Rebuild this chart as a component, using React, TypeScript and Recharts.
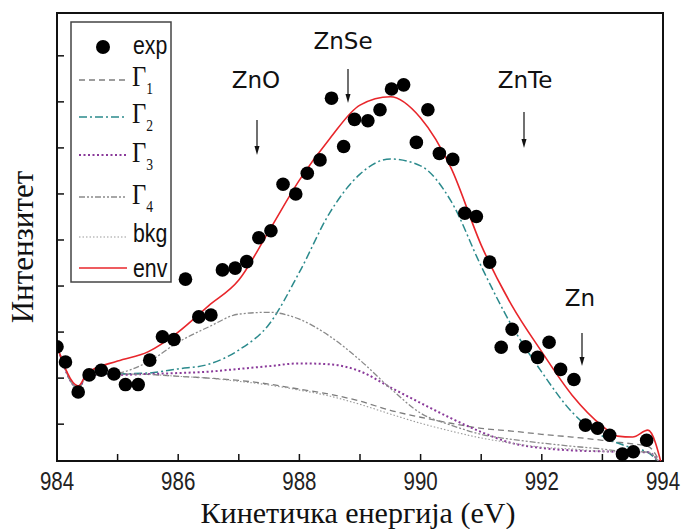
import React from 'react';
import {
  ComposedChart,
  Line,
  Scatter,
  XAxis,
  YAxis,
  ReferenceArea,
  Legend,
} from 'recharts';

// measured points: kinetic energy (eV) and intensity (arb. units)
const expEnergy = [
  984.0, 984.14, 984.35, 984.53, 984.73, 984.94, 985.13, 985.34, 985.53, 985.74,
  985.93, 986.12, 986.34, 986.54, 986.73, 986.94, 987.13, 987.33, 987.53, 987.73,
  987.94, 988.13, 988.34, 988.53, 988.73, 988.91, 989.13, 989.33, 989.52, 989.72,
  989.93, 990.12, 990.31, 990.53, 990.73, 990.92, 991.14, 991.33, 991.51, 991.73,
  991.93, 992.12, 992.31, 992.53, 992.72, 992.92, 993.12, 993.33, 993.51, 993.73,
];
const expIntensity = [
  1.68, 1.35, 0.7, 1.07, 1.17, 1.09, 0.86, 0.86, 1.39, 1.9,
  1.84, 3.15, 2.33, 2.37, 3.35, 3.39, 3.53, 4.05, 4.2, 5.21,
  5.0, 5.45, 5.74, 7.08, 6.03, 6.62, 6.59, 6.83, 7.28, 7.37,
  6.12, 6.83, 5.88, 5.75, 4.58, 4.51, 3.52, 1.67, 2.06, 1.68,
  1.45, 1.78, 1.19, 0.97, -0.02, -0.09, -0.24, -0.65, -0.6, -0.35,
];

// fit components, read on a common energy grid
const fitEnergy = [
  984, 984.35, 984.5, 985, 985.5, 986, 986.5, 987, 987.5, 988, 988.5, 989,
  989.5, 990, 990.5, 991, 991.5, 992, 992.5, 993, 993.25, 993.5, 993.75, 994,
];
const gamma1 = [
  1.7, 0.78, 1.04, 1.09, 1.08, 1.04, 1.0, 0.95, 0.87, 0.76, 0.65, 0.5,
  0.3, 0.15, 0.02, -0.09, -0.15, -0.22, -0.28, -0.35, -0.39, -0.43, -0.48, -0.96,
];
const gamma2 = [
  1.7, 0.78, 1.07, 1.09, 1.11, 1.2, 1.3, 1.61, 2.17, 3.3, 4.59, 5.43,
  5.76, 5.61, 4.85, 3.43, 2.15, 1.13, 0.26, -0.26, -0.41, -0.52, -0.61, -0.96,
];
const gamma3 = [
  1.7, 0.78, 1.07, 1.07, 1.09, 1.11, 1.14, 1.2, 1.26, 1.32, 1.3, 1.15,
  0.8, 0.46, 0.13, -0.17, -0.41, -0.52, -0.57, -0.59, -0.6, -0.61, -0.61, -0.96,
];
const gamma4 = [
  1.7, 0.78, 1.07, 1.11, 1.35, 1.78, 2.11, 2.39, 2.43, 2.28, 1.91, 1.39,
  0.78, 0.24, -0.02, -0.22, -0.33, -0.41, -0.48, -0.54, -0.58, -0.59, -0.61, -0.96,
];
const background = [
  1.7, 0.78, 1.04, 1.09, 1.08, 1.04, 1.0, 0.93, 0.85, 0.74, 0.61, 0.43,
  0.22, 0.02, -0.15, -0.3, -0.41, -0.5, -0.54, -0.59, -0.6, -0.61, -0.61, -0.96,
];
const envelope = [
  1.7, 0.83, 1.11, 1.37, 1.57, 2.0, 2.57, 3.13, 4.2, 5.3, 6.2, 6.93,
  7.11, 6.65, 5.57, 3.89, 2.59, 1.57, 0.63, -0.04, -0.26, -0.28, -0.13, -1.0,
];

const xTicks = [984, 985, 986, 987, 988, 989, 990, 991, 992, 993, 994];
const yTicks = [0, 1, 2, 3, 4, 5, 6, 7, 8];

const X_MIN = 984;
const X_MAX = 994;
const Y_MIN = -0.8;
const Y_MAX = 8.93;

const SERIES = [
  { key: 'g1', name: 'Γ', sub: '1', color: '#7d7d7d', dash: '6 4', width: 1.3 },
  { key: 'g2', name: 'Γ', sub: '2', color: '#2b8a8c', dash: '8 3 2 3', width: 1.5 },
  { key: 'g3', name: 'Γ', sub: '3', color: '#8a3a9a', dash: '2 2.5', width: 2 },
  { key: 'g4', name: 'Γ', sub: '4', color: '#8a8a8a', dash: '6 2 2 2 2 2', width: 1.3 },
  { key: 'bkg', name: 'bkg', sub: '', color: '#9a9a9a', dash: '1.5 2', width: 1.1 },
  { key: 'env', name: 'env', sub: '', color: '#e8262b', dash: undefined, width: 1.6 },
];

const fitRows = fitEnergy.map((x, i) => ({
  x,
  g1: gamma1[i],
  g2: gamma2[i],
  g3: gamma3[i],
  g4: gamma4[i],
  bkg: background[i],
  env: envelope[i],
}));
const expRows = expEnergy.map((x, i) => ({ x, y: expIntensity[i] }));

const SANS = "'Liberation Sans', Arial, sans-serif";
const SERIF = "'Liberation Serif', 'Times New Roman', serif";
const LABEL_SANS = "'DejaVu Sans', Verdana, sans-serif";

function XTick({ x, y, payload }: any) {
  const v = payload.value;
  return (
    <g>
      <line x1={x} x2={x} y1={y} y2={y - 7} stroke="#111" strokeWidth={1.5} />
      {v % 2 === 0 && (
        <text
          transform={`translate(${x},${y + 29}) scale(0.82,1)`}
          textAnchor="middle"
          fontFamily={SANS}
          fontSize={25}
          fill="#222"
        >
          {v}
        </text>
      )}
    </g>
  );
}

function YTick({ x, y }: any) {
  return <line x1={x} x2={x + 7} y1={y} y2={y} stroke="#111" strokeWidth={1.5} />;
}

function Dot({ cx, cy }: any) {
  if (cx == null || cy == null) return null;
  return <circle cx={cx} cy={cy} r={6.8} fill="#000" />;
}

// rows in legend box coordinates
const LEGEND_ROWS = [59, 96, 134, 176, 216, 247];
const LEGEND_BASE = [65, 102, 141, 183, 221, 256];

function FitLegend() {
  return (
    <svg width={102} height={262} style={{ display: 'block' }}>
      <rect x={1} y={1} width={100} height={260} fill="#fff" stroke="#444" strokeWidth={1.5} />
      <circle cx={33} cy={26} r={7} fill="#000" />
      <text transform="translate(63,33) scale(0.82,1)" fontFamily={SANS} fontSize={26} fill="#111">
        exp
      </text>
      {SERIES.map((s, i) => (
        <g key={s.key}>
          <line
            x1={9}
            x2={57}
            y1={LEGEND_ROWS[i]}
            y2={LEGEND_ROWS[i]}
            stroke={s.color}
            strokeWidth={s.width}
            strokeDasharray={s.dash}
          />
          {s.sub ? (
            <text transform={`translate(62,${LEGEND_BASE[i]}) scale(0.85,1)`} fontFamily={SERIF} fontSize={29} fill="#111">
              {s.name}
              <tspan fontSize={16} dy={8}>{s.sub}</tspan>
            </text>
          ) : (
            <text transform={`translate(63,${LEGEND_BASE[i]}) scale(0.82,1)`} fontFamily={SANS} fontSize={26} fill="#111">
              {s.name}
            </text>
          )}
        </g>
      ))}
    </svg>
  );
}

const PEAKS = [
  { label: 'ZnO', tx: 256, ty: 88, ax: 257, a1: 120, a2: 155 },
  { label: 'ZnSe', tx: 343, ty: 49, ax: 348, a1: 69, a2: 103 },
  { label: 'ZnTe', tx: 525, ty: 88, ax: 524, a1: 112, a2: 148 },
  { label: 'Zn', tx: 580, ty: 306, ax: 582, a1: 333, a2: 366 },
];

export default function App() {
  return (
    <div style={{ position: 'absolute', left: 0, top: 0, width: 684, height: 529, background: '#fff' }}>
      <ComposedChart
        width={684}
        height={529}
        data={fitRows}
        margin={{ top: 13, right: 21, bottom: 38, left: 47 }}
      >
        <XAxis
          type="number"
          dataKey="x"
          domain={[X_MIN, X_MAX]}
          ticks={xTicks}
          interval={0}
          allowDataOverflow
          axisLine={false}
          tickLine={false}
          tickSize={0}
          tickMargin={0}
          height={30}
          tick={<XTick />}
        />
        <YAxis
          type="number"
          domain={[Y_MIN, Y_MAX]}
          ticks={yTicks}
          interval={0}
          allowDataOverflow
          axisLine={false}
          tickLine={false}
          tickSize={0}
          tickMargin={0}
          width={10}
          tick={<YTick />}
        />
        <ReferenceArea
          x1={X_MIN}
          x2={X_MAX}
          y1={Y_MIN}
          y2={Y_MAX}
          fill="none"
          stroke="#111"
          strokeWidth={2}
          ifOverflow="visible"
        />
        {SERIES.map((s) => (
          <Line
            key={s.key}
            type="monotone"
            dataKey={s.key}
            stroke={s.color}
            strokeWidth={s.width}
            strokeDasharray={s.dash}
            dot={false}
            activeDot={false}
            isAnimationActive={false}
          />
        ))}
        <Scatter data={expRows} dataKey="y" shape={<Dot />} isAnimationActive={false} />
        <Legend
          layout="vertical"
          align="center"
          verticalAlign="middle"
          content={() => <FitLegend />}
          wrapperStyle={{ left: 70, top: 21, width: 102, height: 262 }}
        />
      </ComposedChart>
      <svg
        width={684}
        height={529}
        style={{ position: 'absolute', left: 0, top: 0, pointerEvents: 'none' }}
      >
        {PEAKS.map((p) => (
          <g key={p.label}>
            <text x={p.tx} y={p.ty} textAnchor="middle" fontFamily={LABEL_SANS} fontSize={23} fill="#111">
              {p.label}
            </text>
            <line x1={p.ax} x2={p.ax} y1={p.a1} y2={p.a2 - 6} stroke="#111" strokeWidth={1.2} />
            <path d={`M${p.ax - 2.5},${p.a2 - 9} L${p.ax},${p.a2} L${p.ax + 2.5},${p.a2 - 9} Z`} fill="#111" />
          </g>
        ))}
        <text x={358} y={523} textAnchor="middle" fontFamily={SERIF} fontSize={30} fill="#111">
          Кинетичка енергија (eV)
        </text>
        <text
          x={33}
          y={247}
          transform="rotate(-90, 33, 247)"
          textAnchor="middle"
          fontFamily={SERIF}
          fontSize={31}
          fill="#111"
        >
          Интензитет
        </text>
      </svg>
    </div>
  );
}
